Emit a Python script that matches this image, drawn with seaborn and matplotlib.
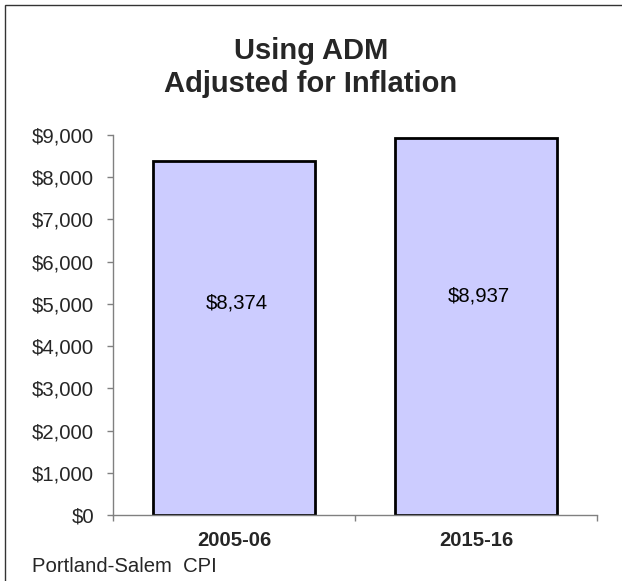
import matplotlib
matplotlib.use('Agg')
import matplotlib.pyplot as plt
import seaborn as sns
from matplotlib.patches import Rectangle
from matplotlib.ticker import FuncFormatter, FixedLocator

# data
periods = ['2005-06', '2015-16']
values = [8374, 8937]
y_ticks = [0, 1000, 2000, 3000, 4000, 5000, 6000, 7000, 8000, 9000]
title_lines = ['Using ADM', 'Adjusted for Inflation']
footnote = 'Portland-Salem  CPI'

sns.set_style('white')
plt.rcParams['font.family'] = ['Liberation Sans', 'DejaVu Sans']

fig = plt.figure(figsize=(6.22, 5.81), dpi=100)
ax = fig.add_axes([113 / 622, 1 - 515 / 581, (597 - 113) / 622, (515 - 135) / 581])

sns.barplot(x=periods, y=values, ax=ax, width=0.67, color='#CCCCFF',
            saturation=1, edgecolor='black', linewidth=2)

ax.set_xlim(-0.5, 1.5)
ax.set_ylim(0, 9000)
ax.set_yticks(y_ticks)
ax.yaxis.set_major_formatter(FuncFormatter(lambda v, p: f'${v:,.0f}'))
ax.set_xlabel('')
ax.set_ylabel('')

for side in ['top', 'right']:
    ax.spines[side].set_visible(False)
for side in ['left', 'bottom']:
    ax.spines[side].set_color('#808080')
    ax.spines[side].set_linewidth(1)

# pads are in points (1px = 0.72pt at dpi 100)
ax.tick_params(axis='y', direction='out', length=4, width=1, color='#808080',
               pad=9.5, labelsize=14.6, left=True)
ax.tick_params(axis='x', which='major', length=0, pad=11.5, labelsize=14.6)
for lab in ax.get_xticklabels():
    lab.set_fontweight('bold')
ax.xaxis.set_minor_locator(FixedLocator([-0.5, 0.5, 1.5]))
ax.tick_params(axis='x', which='minor', direction='out', length=4, width=1,
               color='#808080', bottom=True)

# value labels inside bars
label_y = [5030, 5195]
for i, v in enumerate(values):
    ax.text(i + 0.01, label_y[i], f'${v:,}', ha='center', va='center',
            fontsize=14.6, color='black')

fig.text(0.5, 1 - 51 / 581, title_lines[0], ha='center', va='center',
         fontsize=21, fontweight='bold')
fig.text(0.5, 1 - 84 / 581, title_lines[1], ha='center', va='center',
         fontsize=21, fontweight='bold')

fig.text(32 / 622, 1 - 567 / 581, footnote, ha='left', va='center', fontsize=14.6)

# outer chart border
fig.patches.append(Rectangle((5 / 622, -0.05), 1.2, 1 - 5 / 581 + 0.05,
                             transform=fig.transFigure, fill=False,
                             edgecolor='#333333', linewidth=1))

fig.savefig('out.png', dpi=100, facecolor='white')
